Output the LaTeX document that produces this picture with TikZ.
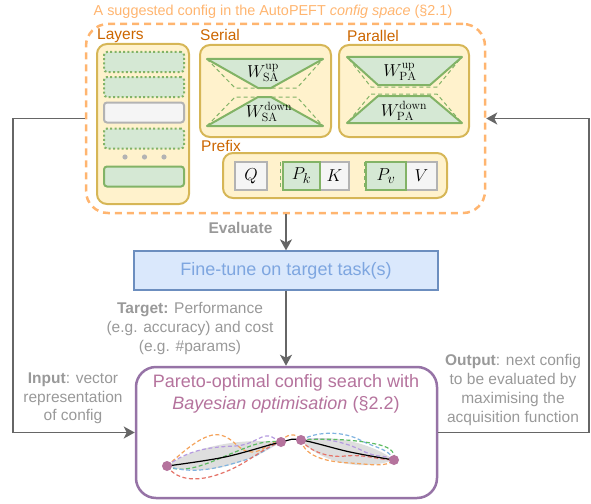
\documentclass[tikz,border=0pt]{standalone}
\usepackage{fontspec}
\setsansfont{Liberation Sans}
\usetikzlibrary{arrows.meta}

\definecolor{cfgorange}{HTML}{FFB570}
\definecolor{lblorange}{HTML}{CC6600}
\definecolor{yelfill}{HTML}{FFF2CC}
\definecolor{yeldraw}{HTML}{D6B656}
\definecolor{grnfill}{HTML}{D5E8D4}
\definecolor{grndraw}{HTML}{82B366}
\definecolor{gryfill}{HTML}{F5F5F5}
\definecolor{grydraw}{HTML}{B3B3B3}
\definecolor{blufill}{HTML}{DAE8FC}
\definecolor{bludraw}{HTML}{6C8EBF}
\definecolor{blutext}{HTML}{7EA6E0}
\definecolor{purdraw}{HTML}{9673A6}
\definecolor{purtext}{HTML}{B5739D}
\definecolor{arrgray}{HTML}{666666}
\definecolor{txtgray}{HTML}{999999}
\definecolor{gporange}{HTML}{F5A35B}
\definecolor{gppurple}{HTML}{B59AE0}
\definecolor{gpgreen}{HTML}{5DBB63}
\definecolor{gpblue}{HTML}{7FB3E0}
\definecolor{gpred}{HTML}{E57368}
\definecolor{gpband}{HTML}{DEDEDE}

\begin{document}
\begin{tikzpicture}[x=1pt,y=-1pt,
  sidetxt/.style={font=\sffamily\fontsize{15.5}{18.7}\selectfont, text=txtgray, align=center, inner sep=0},
  lbl/.style={font=\sffamily\fontsize{15.5}{18}\selectfont, text=lblorange, inner sep=0},
  cfgbox/.style={draw=yeldraw, fill=yelfill, line width=2pt, rounded corners=10pt, inner sep=0},
  layer/.style={minimum width=80pt, minimum height=20pt, inner sep=0, rounded corners=3pt, line width=2pt},
  dotlayer/.style={layer, draw=grndraw, fill=grnfill, dash pattern=on 2pt off 2.3pt},
  greenlayer/.style={layer, draw=grndraw, fill=grnfill},
  graylayer/.style={layer, draw=grydraw, fill=gryfill},
  trap/.style={draw=grndraw, fill=grnfill, line width=2pt, line join=round},
  trapdash/.style={draw=grndraw, line width=1pt, dash pattern=on 4pt off 3pt},
  wlabel/.style={font=\fontsize{17}{20}\selectfont, inner sep=0},
  key/.style={minimum height=28pt, inner sep=0, line width=2pt, font=\fontsize{19}{22}\selectfont},
  graykey/.style={key, draw=grydraw, fill=gryfill},
  greenkey/.style={key, draw=grndraw, fill=grnfill},
  arr/.style={draw=arrgray, line width=1.8pt, -{Stealth[length=11pt,width=12pt,inset=3pt]}},
  sample/.style={line width=1.2pt, dash pattern=on 4pt off 2.5pt},
]
\useasboundingbox (0,0) rectangle (591,503);

% ---------- configuration space ----------
\node[draw=cfgorange, line width=2.5pt, dash pattern=on 7pt off 5pt, rounded corners=22pt,
      minimum width=399pt, minimum height=189pt, inner sep=0] (space) at (285.5,118.5) {};
\node[font=\sffamily\fontsize{14.4}{17}\selectfont, text=cfgorange, inner sep=0] (title) at (273,12)
  {A suggested config in the AutoPEFT \textit{config space} (§2.1)};

% layers
\node[cfgbox, minimum width=92pt, minimum height=160pt] (layers) at (143,124) {};
\node[lbl, anchor=west] (layerslbl) at (97,36) {Layers};
\node[dotlayer] (l1) at (144,62) {};
\node[dotlayer] (l2) at (144,87) {};
\node[graylayer] (l3) at (144,112.5) {};
\node[dotlayer] (l4) at (144,138.5) {};
\node[greenlayer] (l5) at (144,176.5) {};
\fill[grydraw] (125,157) circle (2.6pt) (144.5,157) circle (2.6pt) (164,157) circle (2.6pt);

% serial adapters
\node[cfgbox, minimum width=131pt, minimum height=92pt] (serial) at (265.5,91) {};
\node[lbl, anchor=west] (seriallbl) at (200,35) {Serial};
\filldraw[trap] (207,59) -- (323,59) -- (271,88) -- (258,88) -- cycle;
\draw[trapdash] (207,59) -- (235,88) -- (297,88) -- (323,59);
\filldraw[trap] (258,97) -- (271,97) -- (323,126) -- (207,126) -- cycle;
\draw[trapdash] (207,126) -- (235,97) -- (297,97) -- (323,126);
\node[wlabel] (wsaup) at (263,73) {$W^{\mathrm{up}}_{\mathrm{SA}}$};
\node[wlabel] (wsadown) at (269,112) {$W^{\mathrm{down}}_{\mathrm{SA}}$};

% parallel adapters
\node[cfgbox, minimum width=130pt, minimum height=92pt] (parallel) at (404,91) {};
\node[lbl, anchor=west] (parallellbl) at (347,36) {Parallel};
\draw[trapdash] (349,59) -- (371,87) -- (437,87) -- (460,59);
\filldraw[trap] (347,57) -- (462,57) -- (430,85) -- (378,85) -- cycle;
\draw[trapdash] (349,121) -- (371,94) -- (437,94) -- (460,121);
\filldraw[trap] (378,96) -- (430,96) -- (462,123) -- (347,123) -- cycle;
\node[wlabel] (wpaup) at (400,72) {$W^{\mathrm{up}}_{\mathrm{PA}}$};
\node[wlabel] (wpadown) at (404,111) {$W^{\mathrm{down}}_{\mathrm{PA}}$};

% prefix tuning
\node[cfgbox, minimum width=224pt, minimum height=45pt] (prefix) at (335,175.5) {};
\node[lbl, anchor=west] (prefixlbl) at (201,146) {Prefix};
\node[graykey, minimum width=32pt] (q) at (251,176) {$Q$};
\draw[trapdash] (280,162) -- (280,190);
\node[graykey, minimum width=29pt] (k) at (334.5,176) {$K$};
\node[greenkey, minimum width=37pt] (pk) at (301.5,176) {$P_k$};
\draw[trapdash] (364,162) -- (364,190);
\node[graykey, minimum width=31pt] (v) at (421.5,176) {$V$};
\node[greenkey, minimum width=40pt] (pv) at (386,176) {$P_v$};

% ---------- fine-tuning ----------
\node[draw=bludraw, fill=blufill, line width=1.2pt, minimum width=304pt, minimum height=39pt,
      inner sep=0, text=blutext, font=\sffamily\fontsize{18}{21}\selectfont] (ft) at (286,270.5)
  {Fine-tune on target task(s)};

% ---------- Bayesian optimisation ----------
\node[draw=purdraw, fill=white, line width=2.5pt, rounded corners=20pt,
      minimum width=301pt, minimum height=131pt, inner sep=0] (pareto) at (286.5,432.5) {};
\node[align=center, text=purtext, font=\sffamily\fontsize{18}{22}\selectfont, inner sep=0] (ptext) at (286,394)
  {Pareto-optimal config search with\\\textit{Bayesian optimisation} (§2.2)};

% uncertainty bands
\fill[gpband] (167,466) .. controls (195,446) and (240,438) .. (281,442)
              .. controls (250,462) and (205,478) .. (167,466);
\fill[gpband] (301,440) .. controls (330,434) and (370,442) .. (394,460)
              .. controls (360,472) and (320,462) .. (301,440);
% posterior samples
\draw[sample, gporange] (167,466) .. controls (185,450) and (205,432) .. (220,435)
      .. controls (235,438) and (238,452) .. (252,452) .. controls (265,452) and (272,438) .. (281,442);
\draw[sample, gppurple] (167,466) .. controls (190,448) and (215,447) .. (235,446)
      .. controls (255,445) and (262,432) .. (272,437) -- (281,442);
\draw[sample, gpgreen] (167,466) .. controls (185,476) and (215,460) .. (235,452)
      .. controls (255,444) and (265,440) .. (281,442);
\draw[sample, gpblue] (167,466) .. controls (195,476) and (225,466) .. (245,460)
      .. controls (262,455) and (268,446) .. (281,442);
\draw[sample, gpred] (167,466) .. controls (178,482) and (200,482) .. (225,472)
      .. controls (250,462) and (262,448) .. (281,442);
\draw[sample, gporange] (281,442) .. controls (285,434) and (297,432) .. (301,440);
\draw[sample, gpblue] (301,440) .. controls (320,430) and (345,432) .. (360,440)
      .. controls (375,448) and (388,448) .. (394,460);
\draw[sample, gppurple] (301,440) .. controls (325,436) and (350,444) .. (365,452)
      .. controls (378,458) and (388,455) .. (394,460);
\draw[sample, gpgreen] (301,440) .. controls (330,438) and (360,440) .. (380,445)
      .. controls (392,448) and (396,454) .. (394,460);
\draw[sample, gporange] (301,440) .. controls (305,458) and (330,462) .. (350,463)
      .. controls (370,464) and (385,468) .. (394,460);
\draw[sample, gpred] (301,440) .. controls (310,452) and (330,458) .. (345,456)
      .. controls (365,454) and (380,460) .. (394,460);
% posterior mean and observations
\draw[black, line width=1.2pt] plot[smooth, tension=0.6] coordinates
  {(167,466) (225,457) (281,442) (301,440) (350,452) (394,460)};
\fill[purtext] (167,466) circle (5pt) (281,442) circle (5pt) (301,440) circle (5pt) (394,460) circle (5pt);

% ---------- connectors ----------
\draw[arr] (ft.north |- space.south) -- (ft.north);
\draw[arr] (ft.south) -- (ft.south |- pareto.north);
\draw[arr] (space.west) -- ++(-72,0) |- (pareto.west);
\draw[arr] (pareto.east) -- ++(151,0) |- (space.east);

% ---------- connector labels ----------
\node[sidetxt, font=\sffamily\bfseries\fontsize{15.5}{18.7}\selectfont] (evallbl) at (240.5,228) {Evaluate};
\node[sidetxt] (targetlbl) at (190,328.5) {\textbf{Target:} Performance\\(e.g. accuracy) and cost\\(e.g. \#params)};
\node[sidetxt] (inputlbl) at (73,398.5) {\textbf{Input}: vector\\representation\\of config};
\node[sidetxt] (outputlbl) at (513,390) {\textbf{Output}: next config\\to be evaluated by\\maximising the\\acquisition function};
\end{tikzpicture}
\end{document}
